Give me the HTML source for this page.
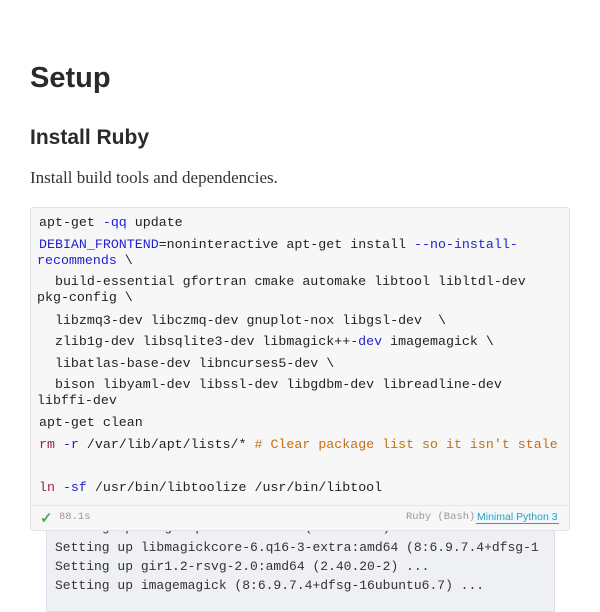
<!DOCTYPE html>
<html><head><style>
body{margin:0;width:600px;height:600px;overflow:hidden;background:#fff;position:relative;font-family:"Liberation Sans",sans-serif;}
.a{position:absolute;white-space:pre;}
h1{position:absolute;left:30px;top:58px;margin:0;font-size:29px;font-weight:bold;color:#2a2a2a;line-height:40px;}
h2{position:absolute;left:30px;top:124px;margin:0;font-size:21px;font-weight:bold;color:#2a2a2a;line-height:28px;}
.p{left:30px;top:167px;font-family:"Liberation Serif",serif;font-size:17px;color:#333;line-height:22px;}
.out{position:absolute;left:46px;top:520px;width:507px;height:90px;background:#eef0f4;border:1px solid #dde;}
.code{position:absolute;left:30px;top:207px;width:538px;height:322px;background:#f7f7f7;border:1px solid #e3e3e3;border-radius:3px;}
.m{font-family:"Liberation Mono",monospace;font-size:13.3px;color:#222;line-height:16px;}
.k{color:#1f1fd0}.r{color:#9a1e5a}.c{color:#c0701a}
.o{font-family:"Liberation Mono",monospace;font-size:13px;color:#333;line-height:16px;}
</style></head><body>
<h1>Setup</h1>
<h2>Install Ruby</h2>
<div class="a p">Install build tools and dependencies.</div>
<div class="out"></div>
<div class="a o" style="left:55px;top:520px;">Setting up libgdk-pixbuf2.0-dev (2.36.11-2) ...</div>
<div class="a o" style="left:55px;top:540px;">Setting up libmagickcore-6.q16-3-extra:amd64 (8:6.9.7.4+dfsg-1</div>
<div class="a o" style="left:55px;top:559px;">Setting up gir1.2-rsvg-2.0:amd64 (2.40.20-2) ...</div>
<div class="a o" style="left:55px;top:578px;">Setting up imagemagick (8:6.9.7.4+dfsg-16ubuntu6.7) ...</div>
<div class="code"></div>
<div style="position:absolute;left:31px;top:505px;width:538px;border-top:1px solid #e6e6e6"></div>
<div class="a m" style="left:39px;top:215px;">apt-get <span class="k">-qq</span> update</div>
<div class="a m" style="left:39px;top:237px;"><span class="k">DEBIAN_FRONTEND</span>=noninteractive apt-get install <span class="k">--no-install-</span></div>
<div class="a m" style="left:37px;top:253px;"><span class="k">recommends</span> \</div>
<div class="a m" style="left:39px;top:274px;">  build-essential gfortran cmake automake libtool libltdl-dev</div>
<div class="a m" style="left:37px;top:290px;">pkg-config \</div>
<div class="a m" style="left:39px;top:313px;">  libzmq3-dev libczmq-dev gnuplot-nox libgsl-dev  \</div>
<div class="a m" style="left:39px;top:334px;">  zlib1g-dev libsqlite3-dev libmagick++<span class="k">-dev</span> imagemagick \</div>
<div class="a m" style="left:39px;top:356px;">  libatlas-base-dev libncurses5-dev \</div>
<div class="a m" style="left:39px;top:377px;">  bison libyaml-dev libssl-dev libgdbm-dev libreadline-dev</div>
<div class="a m" style="left:37px;top:393px;">libffi-dev</div>
<div class="a m" style="left:39px;top:415px;">apt-get clean</div>
<div class="a m" style="left:39px;top:437px;"><span class="r">rm</span> <span class="k">-r</span> /var/lib/apt/lists/* <span class="c"># Clear package list so it isn't stale</span></div>
<div class="a m" style="left:39px;top:480px;"><span class="r">ln</span> <span class="k">-sf</span> /usr/bin/libtoolize /usr/bin/libtool</div>
<div class="a" style="left:40px;top:509px;color:#4caf50;font-size:15px;font-weight:bold;">✓</div>
<div class="a" style="left:59px;top:511px;font-family:'Liberation Mono',monospace;font-size:10.5px;color:#999;">88.1s</div>
<div class="a" style="left:406px;top:511px;font-family:'Liberation Mono',monospace;font-size:10.5px;color:#999;">Ruby (Bash)</div>
<div class="a" style="left:476px;top:511px;font-family:'Liberation Sans',sans-serif;font-size:10.5px;color:#2a9fbf;border-bottom:1px solid #2a9fbf;background:#f0f8fb;padding:0 1px;">Minimal Python 3</div>
</body></html>
